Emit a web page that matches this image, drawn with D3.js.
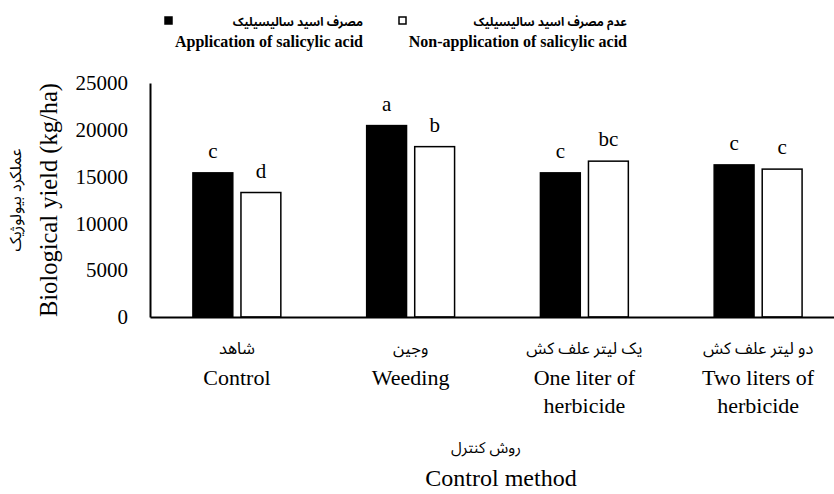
<!DOCTYPE html>
<html>
<head>
<meta charset="utf-8">
<script src="https://cdn.jsdelivr.net/npm/d3@7"></script>
</head>
<body style="margin:0">
<svg id="chart"></svg>
<script>
// Chart data
const categories = ["control", "weeding", "oneLiter", "twoLiters"];
const labelsFa = ["شاهد", "وجین", "یک لیتر علف کش", "دو لیتر علف کش"];
const labelsEn = [["Control"], ["Weeding"], ["One liter of", "herbicide"], ["Two liters of", "herbicide"]];
const applied = [15400, 20450, 15400, 16250];
const nonApplied = [13300, 18200, 16650, 15800];
const lettersApplied = ["c", "a", "c", "c"];
const lettersNonApplied = ["d", "b", "bc", "c"];
const yTicks = [0, 5000, 10000, 15000, 20000, 25000];
const seriesKeys = ["applied", "nonApplied"];

const width = 834;
const height = 494;
const margin = { top: 83, right: -11, bottom: 177, left: 150 };
const latinFont = "Liberation Serif";
const faFont = "Noto Sans Arabic";

const svg = d3.select("#chart")
  .attr("width", width)
  .attr("height", height);

// build rows for the grouped bars
const rows = categories.map((c, i) => ({
  key: c,
  values: [
    { series: "applied", value: applied[i], letter: lettersApplied[i] },
    { series: "nonApplied", value: nonApplied[i], letter: lettersNonApplied[i] }
  ]
}));

const x0 = d3.scaleBand()
  .domain(categories)
  .range([margin.left, width - margin.right])
  .paddingInner(0.494)
  .paddingOuter(0.247);

const x1 = d3.scaleBand()
  .domain(seriesKeys)
  .range([0, x0.bandwidth()])
  .paddingInner(0.17);

const y = d3.scaleLinear()
  .domain([0, 25000])
  .range([height - margin.bottom, margin.top]);

// bars
const groups = svg.append("g")
  .selectAll("g")
  .data(rows)
  .join("g")
  .attr("transform", d => `translate(${x0(d.key)},0)`);

groups.selectAll("rect")
  .data(d => d.values)
  .join("rect")
  .attr("x", d => x1(d.series))
  .attr("y", d => y(d.value))
  .attr("width", x1.bandwidth())
  .attr("height", d => y(0) - y(d.value))
  .attr("fill", d => d.series === "applied" ? "#000" : "#fff")
  .attr("stroke", "#000")
  .attr("stroke-width", 1.5);

// significance letters
groups.selectAll("text")
  .data(d => d.values)
  .join("text")
  .attr("x", d => x1(d.series) + x1.bandwidth() / 2)
  .attr("y", d => y(d.value) - 15)
  .attr("text-anchor", "middle")
  .attr("font-family", latinFont)
  .attr("font-size", 21)
  .text(d => d.letter);

// y axis
const yAxis = svg.append("g")
  .attr("transform", `translate(${margin.left},0)`)
  .call(d3.axisLeft(y).tickValues(yTicks).tickSize(0).tickPadding(22).tickFormat(d3.format("d")));
yAxis.attr("font-family", latinFont).attr("font-size", 21);
yAxis.select(".domain").attr("stroke-width", 2);
yAxis.selectAll("text").attr("fill", "#000");

// x axis (labels drawn separately below)
const xAxis = svg.append("g")
  .attr("transform", `translate(0,${y(0)})`)
  .call(d3.axisBottom(x0).tickSize(0).tickFormat(""));
xAxis.select(".domain").attr("stroke-width", 2);

const catLabels = svg.append("g")
  .selectAll("g")
  .data(categories)
  .join("g")
  .attr("transform", d => `translate(${x0(d) + x0.bandwidth() / 2},0)`);

catLabels.append("text")
  .attr("y", 354)
  .attr("text-anchor", "middle")
  .attr("font-family", faFont)
  .attr("font-size", 16.5)
  .text((d, i) => labelsFa[i]);

catLabels.each(function (d, i) {
  const g = d3.select(this);
  labelsEn[i].forEach((line, j) => {
    g.append("text")
      .attr("y", 385 + j * 28)
      .attr("text-anchor", "middle")
      .attr("font-family", latinFont)
      .attr("font-size", 22)
      .text(line);
  });
});

// x axis title
svg.append("text")
  .attr("x", 486)
  .attr("y", 453)
  .attr("text-anchor", "middle")
  .attr("font-family", faFont)
  .attr("font-size", 15.5)
  .text("روش کنترل");

svg.append("text")
  .attr("x", 501)
  .attr("y", 486)
  .attr("text-anchor", "middle")
  .attr("font-family", latinFont)
  .attr("font-size", 24)
  .text("Control method");

// y axis title
const yTitle = svg.append("g")
  .attr("transform", `translate(0,${(y(0) + y(25000)) / 2}) rotate(-90)`);
yTitle.append("text")
  .attr("y", 21)
  .attr("text-anchor", "middle")
  .attr("font-family", faFont)
  .attr("font-size", 16)
  .text("عملکرد بیولوژیک");
yTitle.append("text")
  .attr("y", 57)
  .attr("text-anchor", "middle")
  .attr("font-family", latinFont)
  .attr("font-size", 24.5)
  .text("Biological yield (kg/ha)");

// legend
const legendItems = [
  { fa: "مصرف اسید سالیسیلیک", en: "Application of salicylic acid", fill: "#000", sx: 165, tx: 363 },
  { fa: "عدم مصرف اسید سالیسیلیک", en: "Non-application of salicylic acid", fill: "#fff", sx: 399, tx: 627 }
];
const legend = svg.append("g")
  .selectAll("g")
  .data(legendItems)
  .join("g");

legend.append("rect")
  .attr("x", d => d.sx)
  .attr("y", 17)
  .attr("width", 7)
  .attr("height", 7)
  .attr("fill", d => d.fill)
  .attr("stroke", "#000")
  .attr("stroke-width", 1.5);

legend.append("text")
  .attr("x", d => d.tx)
  .attr("y", 26)
  .attr("text-anchor", "end")
  .attr("font-family", faFont)
  .attr("font-size", 12)
  .attr("font-weight", "bold")
  .text(d => d.fa);

legend.append("text")
  .attr("x", d => d.tx)
  .attr("y", 47)
  .attr("text-anchor", "end")
  .attr("font-family", latinFont)
  .attr("font-size", 16)
  .attr("font-weight", "bold")
  .text(d => d.en);
</script>
</body>
</html>
